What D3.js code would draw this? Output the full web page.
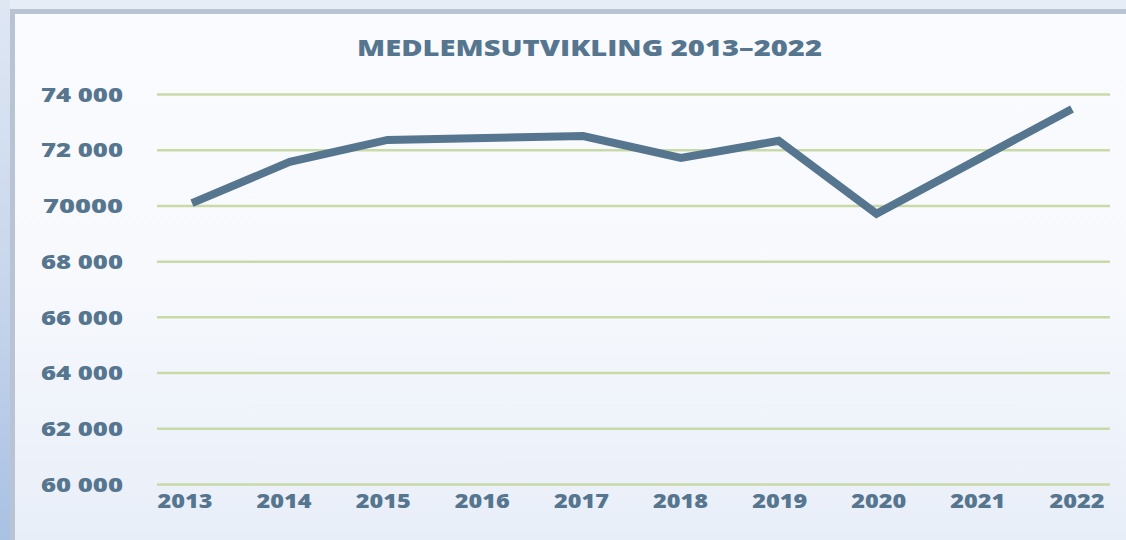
<!DOCTYPE html>
<html><head><meta charset="utf-8">
<script src="https://cdn.jsdelivr.net/npm/d3@7"></script>
<style>
html,body{margin:0;padding:0;background:#e4ebf6;}
svg{display:block;}
</style></head>
<body>
<svg id="chart" width="1126" height="540"></svg>
<script>
const years = ["2013","2014","2015","2016","2017","2018","2019","2020","2021","2022"];
const members = [70100, 71580, 72370, 72440, 72510, 71720, 72340, 69720, 71600, 73480];
const tickValues = [60000, 62000, 64000, 66000, 68000, 70000, 72000, 74000];
const tickLabels = ["60 000","62 000","64 000","66 000","68 000","70000","72 000","74 000"];
const title = "MEDLEMSUTVIKLING 2013–2022";

const svg = d3.select("#chart");
const W = 1126, H = 540;
const defs = svg.append("defs");
const g1 = defs.append("linearGradient").attr("id","bg").attr("x1",0).attr("y1",0).attr("x2",0).attr("y2",1);
g1.append("stop").attr("offset","0").attr("stop-color","#fafbfe");
g1.append("stop").attr("offset","0.5").attr("stop-color","#f7f9fd");
g1.append("stop").attr("offset","1").attr("stop-color","#e8eef8");
const g2 = defs.append("linearGradient").attr("id","edge").attr("x1",0).attr("y1",0).attr("x2",0).attr("y2",1);
g2.append("stop").attr("offset","0").attr("stop-color","#dfe7f3");
g2.append("stop").attr("offset","0.5").attr("stop-color","#c9d7ec");
g2.append("stop").attr("offset","1").attr("stop-color","#a9c1e3");

svg.append("rect").attr("width",W).attr("height",H).attr("fill","#e6edf7");
svg.append("rect").attr("x",0).attr("y",0).attr("width",10).attr("height",H).attr("fill","url(#edge)");
svg.append("rect").attr("x",14).attr("y",14).attr("width",W-14).attr("height",H-14).attr("fill","url(#bg)");
// frame border
svg.append("rect").attr("x",10).attr("y",9).attr("width",W-10).attr("height",5).attr("fill","#b8c4d3");
svg.append("rect").attr("x",10).attr("y",9).attr("width",5).attr("height",H-9).attr("fill","#b8c4d3");

const x = d3.scalePoint().domain(years).range([192, 1072]);
const xl = d3.scalePoint().domain(years).range([185, 1077]);
const y = d3.scaleLinear().domain([60000, 74000]).range([484.5, 94.5]);

const color = "#56758f";
const font = "'Open Sans', 'Liberation Sans', sans-serif";

// gridlines
svg.append("g").selectAll("line").data(tickValues).join("line")
  .attr("x1",157).attr("x2",1110)
  .attr("y1",d=>y(d)).attr("y2",d=>y(d))
  .attr("stroke","#c9daa9").attr("stroke-width",2.5);

// y labels
svg.append("g").selectAll("text").data(tickValues).join("text")
  .attr("x",123).attr("y",d=>y(d)).attr("dy","0.36em")
  .attr("text-anchor","end")
  .attr("font-family",font).attr("font-weight",800).attr("font-size",20)
  .attr("textLength",(d,i)=>tickLabels[i].length===6?82:80).attr("lengthAdjust","spacingAndGlyphs")
  .attr("fill",color)
  .text((d,i)=>tickLabels[i]);

// x labels
svg.append("g").selectAll("text").data(years).join("text")
  .attr("x",d=>xl(d)).attr("y",508)
  .attr("text-anchor","middle")
  .attr("font-family",font).attr("font-weight",800).attr("font-size",20)
  .attr("textLength",55).attr("lengthAdjust","spacingAndGlyphs")
  .attr("fill",color)
  .text(d=>d);

// title
svg.append("text").attr("x",589.5).attr("y",56).attr("text-anchor","middle")
  .attr("font-family",font).attr("font-weight",800).attr("font-size",23)
  .attr("textLength",465).attr("lengthAdjust","spacingAndGlyphs")
  .attr("fill",color).text(title);

// line
const line = d3.line().x((d,i)=>x(years[i])).y(d=>y(d)).curve(d3.curveLinear);
svg.append("path").datum(members)
  .attr("d",line).attr("fill","none")
  .attr("stroke",color).attr("stroke-width",8).attr("stroke-linejoin","miter");
</script>
</body></html>
